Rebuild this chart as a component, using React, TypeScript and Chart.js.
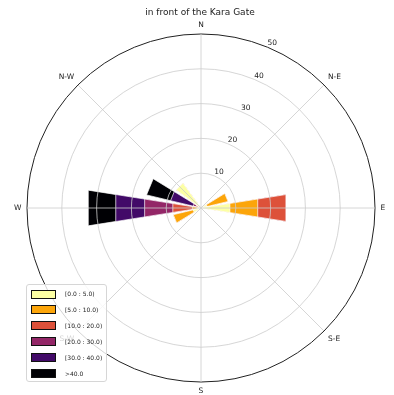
import React, { useEffect, useRef } from 'react';
import { Chart, registerables } from 'chart.js';

Chart.register(...registerables);

const FONT = 'DejaVu Sans';
const TITLE = 'in front of the Kara Gate';

// 16 wind directions, clockwise from north
const DIRECTIONS = ['N', 'NNE', 'NE', 'ENE', 'E', 'ESE', 'SE', 'SSE', 'S', 'SSW', 'SW', 'WSW', 'W', 'WNW', 'NW', 'NNW'];
// compass labels drawn around the rose
const COMPASS_LABELS = ['N', 'N-E', 'E', 'S-E', 'S', 'S-W', 'W', 'N-W'];
// radial tick labels (frequency, %)
const RADIAL_TICKS = [10, 20, 30, 40, 50];

// speed bins
const BIN_LABELS = ['[0.0 : 5.0)', '[5.0 : 10.0)', '[10.0 : 20.0)', '[20.0 : 30.0)', '[30.0 : 40.0)', '>40.0'];
const BIN_COLORS = ['#fcffa4', '#fca50a', '#dd513a', '#932667', '#420a68', '#000004'];

// frequency per direction for each speed bin (same order as DIRECTIONS)
const freq_0_5 = [0, 0, 0, 1.8, 8.4, 0, 0, 0, 0, 0, 0, 2.3, 1.0, 0.5, 8.8, 0];
const freq_5_10 = [0, 0, 0, 6.2, 8.1, 0, 0, 0, 0, 0, 0, 5.9, 1.5, 0.5, 0, 0];
const freq_10_20 = [0, 0, 0, 0, 8.2, 0, 0, 0, 0, 0, 0, 0, 5.7, 0.5, 0, 0];
const freq_20_30 = [0, 0, 0, 0, 0, 0, 0, 0, 0, 0, 0, 0, 8.2, 0.8, 0, 0];
const freq_30_40 = [0, 0, 0, 0, 0, 0, 0, 0, 0, 0, 0, 0, 8.4, 6.7, 0, 0];
const freq_40_plus = [0, 0, 0, 0, 0, 0, 0, 0, 0, 0, 0, 0, 8.0, 7.1, 0, 0];

const OPENING = 0.8; // fraction of a sector covered by a bar

export default function App() {
  const canvasRef = useRef<HTMLCanvasElement>(null);

  useEffect(() => {
    const canvas = canvasRef.current;
    if (!canvas) return;
    const bins = [freq_0_5, freq_5_10, freq_10_20, freq_20_30, freq_30_40, freq_40_plus];
    const nDir = DIRECTIONS.length;
    const sector = 360 / nDir;
    const barAngle = sector * OPENING;
    const gapAngle = sector - barAngle;

    // arc segments: half of N bar, then (gap, bar) for each other direction, gap, other half of N bar
    const segAngles: number[] = [barAngle / 2];
    for (let k = 1; k < nDir; k++) segAngles.push(gapAngle, barAngle);
    segAngles.push(gapAngle, barAngle / 2);

    const expand = (vals: number[]) => {
      const out: number[] = [vals[0]];
      for (let k = 1; k < nDir; k++) out.push(0, vals[k]);
      out.push(0, vals[0]);
      return out;
    };

    // stacked (cumulative) totals per bin
    const cumulative: number[][] = [];
    let running = new Array(nDir).fill(0);
    bins.forEach((b) => {
      running = running.map((r: number, i: number) => r + b[i]);
      cumulative.push(running);
    });

    const datasets = cumulative.map((vals, j) => ({
      label: BIN_LABELS[j],
      data: expand(vals),
      backgroundColor: BIN_COLORS[j],
      borderColor: '#ffffff',
      borderWidth: (c: any) => (c.raw > 0 ? 0.7 : 0),
      circular: false,
      angle: (c: any) => segAngles[c.dataIndex],
    }));

    const tickLabelPlugin = {
      id: 'radialTickLabels',
      afterDraw(chart: any) {
        const s = chart.scales.r;
        const ctx = chart.ctx;
        ctx.save();
        ctx.font = `7.5px "${FONT}"`;
        ctx.fillStyle = '#222';
        ctx.textAlign = 'left';
        ctx.textBaseline = 'bottom';
        RADIAL_TICKS.forEach((v) => {
          // halfway between the first two compass labels (22.5 deg)
          const p = s.getPointPositionForValue(0.5, v);
          ctx.fillText(String(v), p.x, p.y);
        });
        ctx.restore();
      },
    };

    const chart = new Chart(canvas, {
      type: 'polarArea',
      data: { labels: COMPASS_LABELS, datasets: datasets as any },
      options: {
        responsive: false,
        animation: false,
        devicePixelRatio: 1,
        layout: { padding: { left: 6, right: 0, top: 0, bottom: 0 } },
        plugins: {
          legend: { display: false },
          tooltip: { enabled: false },
          title: {
            display: true,
            text: TITLE,
            color: '#222',
            font: { family: FONT, size: 9, weight: 'normal', lineHeight: 1.2 },
            padding: { top: 7.3, bottom: 2.9 },
          },
        },
        scales: {
          r: {
            min: 0,
            max: 50,
            startAngle: 0,
            ticks: { display: false, stepSize: 10 },
            grid: {
              z: 1,
              circular: true,
              color: (c: any) => (c.tick && c.tick.value === 50 ? '#222' : '#cccccc'),
              lineWidth: (c: any) => (c.tick && c.tick.value === 50 ? 1 : 0.8),
            },
            angleLines: { display: true, color: '#cccccc', lineWidth: 0.8 },
            pointLabels: {
              display: true,
              centerPointLabels: false,
              color: '#222',
              padding: 5.5,
              font: { family: FONT, size: 7.5, lineHeight: 1 },
            },
          },
        },
      } as any,
      plugins: [tickLabelPlugin],
    });
    return () => chart.destroy();
  }, []);

  return (
    <div style={{ position: 'fixed', left: 0, top: 0, width: 394, height: 395, background: '#fff' }}>
      <canvas ref={canvasRef} width={394} height={395} style={{ position: 'absolute', left: 0, top: 0, width: 394, height: 395 }} />
      <div
        style={{
          position: 'absolute',
          left: 26,
          top: 284,
          width: 81,
          height: 98,
          boxSizing: 'border-box',
          border: '1px solid #d6d6d6',
          borderRadius: 3,
          background: 'rgba(255,255,255,0.8)',
          fontFamily: FONT,
        }}
      >
        {BIN_LABELS.map((label, i) => (
          <React.Fragment key={label}>
            <div
              style={{
                position: 'absolute',
                left: 4,
                top: 4.5 + i * 15.9,
                width: 25,
                height: 9,
                boxSizing: 'border-box',
                border: '1px solid #111',
                background: BIN_COLORS[i],
              }}
            />
            <div
              style={{
                position: 'absolute',
                left: 38,
                top: 5 + i * 15.9,
                height: 8,
                lineHeight: '8px',
                fontSize: 6,
                color: '#222',
                whiteSpace: 'nowrap',
              }}
            >
              {label}
            </div>
          </React.Fragment>
        ))}
      </div>
    </div>
  );
}
